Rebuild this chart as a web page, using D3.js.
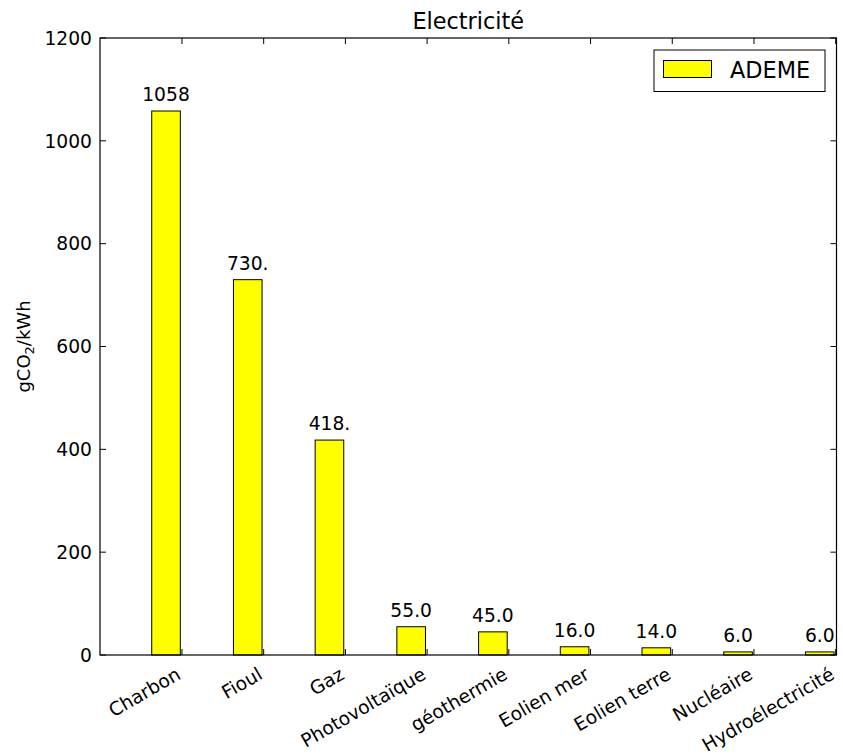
<!DOCTYPE html>
<html>
<head>
<meta charset="utf-8">
<script src="https://cdn.jsdelivr.net/npm/d3@7"></script>
<style>
  body { margin: 0; background: #fff; }
  svg { font-family: "DejaVu Sans", sans-serif; }
</style>
</head>
<body>
<div id="chart"></div>
<script>
const categories = ["Charbon", "Fioul", "Gaz", "Photovoltaïque", "géothermie", "Eolien mer", "Eolien terre", "Nucléaire", "Hydroélectricité"];
const ademeValues = [1058, 730, 418, 55, 45, 16, 14, 6, 6];
const yTicks = [0, 200, 400, 600, 800, 1000, 1200];

var width = 843,
  height = 756;
var plotLeft = 100, plotRight = 836.5, plotTop = 38, plotBottom = 655;
var barWidth = 0.35;

var svg = d3.select('#chart').append('svg')
  .attr('width', width)
  .attr('height', height);

var x = d3.scaleLinear()
  .domain([-0.633, 8.38])
  .range([plotLeft, plotRight]);
var y = d3.scaleLinear()
  .domain([0, 1200])
  .range([plotBottom, plotTop]);

// bars
svg.append('g').selectAll('rect')
  .data(ademeValues)
  .enter().append('rect')
    .attr('x', function(d, i) { return x(i); })
    .attr('y', function(d) { return y(d); })
    .attr('width', x(barWidth) - x(0))
    .attr('height', function(d) { return y(0) - y(d); })
    .attr('fill', '#ffff00')
    .attr('stroke', '#000')
    .attr('stroke-width', 1);

// value labels (python str(float)[:4] style)
svg.append('g').selectAll('text')
  .data(ademeValues)
  .enter().append('text')
    .attr('x', function(d, i) { return x(i + barWidth / 2); })
    .attr('y', function(d) { return y(d) - 10; })
    .attr('text-anchor', 'middle')
    .attr('font-size', 18.7)
    .text(function(d) { return d.toFixed(1).slice(0, 4); });

// frame
svg.append('rect')
  .attr('x', plotLeft).attr('y', plotTop)
  .attr('width', plotRight - plotLeft).attr('height', plotBottom - plotTop)
  .attr('fill', 'none').attr('stroke', '#000').attr('stroke-width', 1.2);

// y ticks, inside on both sides
var tickLen = 6;
var yt = svg.append('g');
yTicks.forEach(function(t) {
  yt.append('line').attr('x1', plotLeft).attr('x2', plotLeft + tickLen)
    .attr('y1', y(t)).attr('y2', y(t)).attr('stroke', '#000');
  yt.append('line').attr('x1', plotRight).attr('x2', plotRight - tickLen)
    .attr('y1', y(t)).attr('y2', y(t)).attr('stroke', '#000');
  yt.append('text').attr('x', plotLeft - 8).attr('y', y(t))
    .attr('dy', '0.36em').attr('text-anchor', 'end')
    .attr('font-size', 18.7).text(t);
});

// x ticks
var xt = svg.append('g');
categories.forEach(function(c, i) {
  var px = x(i + 0.37);
  xt.append('line').attr('x1', px).attr('x2', px)
    .attr('y1', plotBottom).attr('y2', plotBottom - tickLen).attr('stroke', '#000');
  xt.append('line').attr('x1', px).attr('x2', px)
    .attr('y1', plotTop).attr('y2', plotTop + tickLen).attr('stroke', '#000');
  xt.append('text')
    .attr('transform', 'translate(' + px + ',' + (plotBottom + 23) + ') rotate(-30)')
    .attr('text-anchor', 'end')
    .attr('font-size', 18.7)
    .text(c);
});

// title
svg.append('text')
  .attr('x', (plotLeft + plotRight) / 2).attr('y', 29)
  .attr('text-anchor', 'middle')
  .attr('font-size', 22.4)
  .text('Electricité');

// y label
var yl = svg.append('text')
  .attr('transform', 'translate(30,' + ((plotTop + plotBottom) / 2) + ') rotate(-90)')
  .attr('text-anchor', 'middle')
  .attr('font-size', 18);
yl.append('tspan').text('gCO');
yl.append('tspan').attr('font-size', 13).attr('dy', 4).text('2');
yl.append('tspan').attr('dy', -4).text('/kWh');

// legend
var lg = svg.append('g');
lg.append('rect').attr('x', 654).attr('y', 50).attr('width', 171).attr('height', 41.5)
  .attr('fill', '#fff').attr('stroke', '#000').attr('stroke-width', 1);
lg.append('rect').attr('x', 663.5).attr('y', 60.5).attr('width', 48).attr('height', 17)
  .attr('fill', '#ffff00').attr('stroke', '#000').attr('stroke-width', 1);
lg.append('text').attr('x', 730).attr('y', 77.5)
  .attr('font-size', 22.4).text('ADEME');
</script>
</body>
</html>
